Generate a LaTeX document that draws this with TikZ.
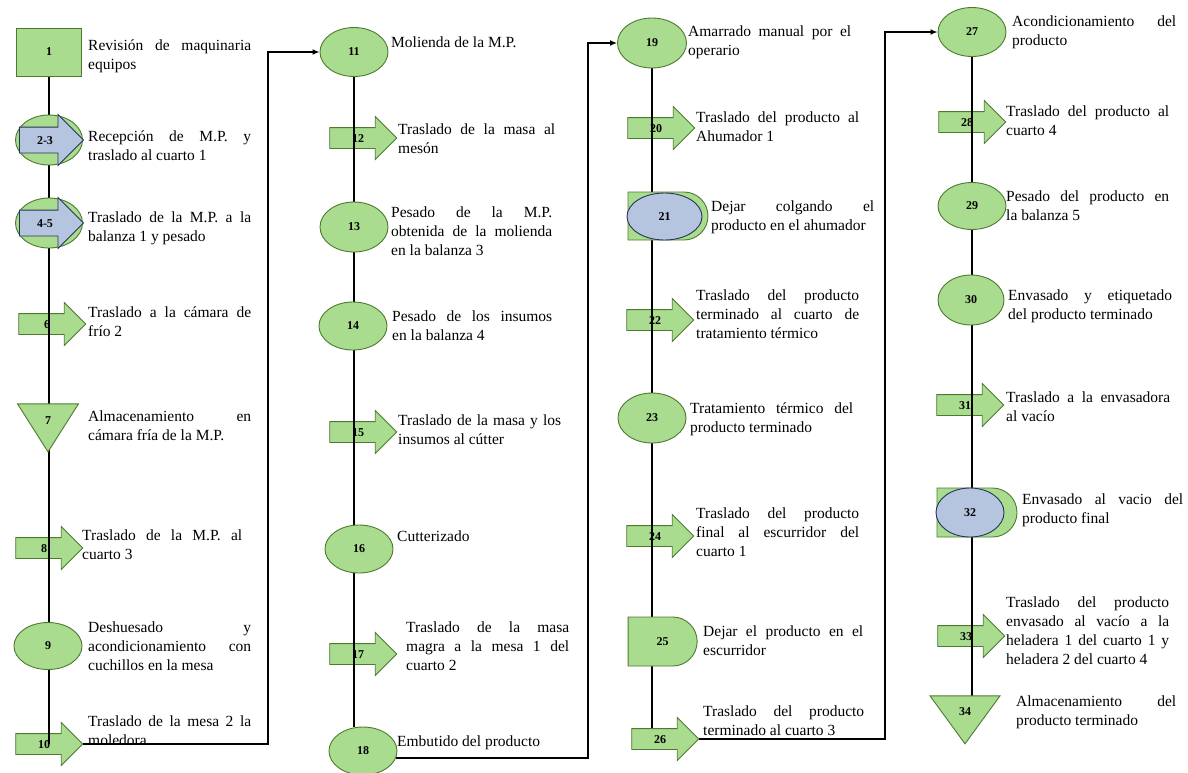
\documentclass[tikz,border=0pt]{standalone}
\usepackage{fontspec}
\setmainfont{Liberation Serif}
\usetikzlibrary{positioning, calc, arrows.meta, shapes.geometric, shapes.arrows, shapes.misc}
\pgfdeclarelayer{back}
\pgfdeclarelayer{mid}
\pgfsetlayers{back,mid,main}
\definecolor{opgreen}{RGB}{169,220,142}
\definecolor{opedge}{RGB}{78,122,48}
\definecolor{opblue}{RGB}{182,197,223}
\definecolor{opnavy}{RGB}{38,52,86}
\hyphenpenalty=10000
\exhyphenpenalty=10000

\tikzset{
  base/.style={fill=opgreen, draw=opedge, line width=0.9pt, inner sep=0pt,
    font=\bfseries\fontsize{12}{14}\selectfont},
  operation/.style={base, ellipse, minimum width=68pt, minimum height=49pt},
  inspection/.style={base, rectangle, minimum width=65pt, minimum height=48pt},
  transport/.style={base, single arrow, single arrow head extend=11pt,
    minimum height=67pt, text height=8pt, text depth=0pt, inner ysep=6pt, inner xsep=2pt},
  storage/.style={base, isosceles triangle, isosceles triangle stretches,
    shape border rotate=-90, minimum width=61pt, minimum height=48pt},
  delay/.style={base, rounded rectangle, rounded rectangle left arc=none,
    minimum width=80pt, minimum height=49pt},
  combo/.style={fill=opblue, draw=opnavy},
  desc/.style={anchor=north west, text width=163pt, align=justify, inner sep=0pt,
    font=\fontsize{15.5}{19}\selectfont},
  trunk/.style={line width=1.4pt},
  flow/.style={line width=1.4pt, -{Latex[length=7pt,width=6pt]}},
}

\begin{document}
\begin{tikzpicture}[x=1pt, y=-1pt]
    \useasboundingbox (0,0) rectangle (1188,772);

    % Transportes (debajo de la linea)
    \begin{pgfonlayer}{back}
    \node[transport] (n6) at (47,324) {6};
    \node[transport] (n8) at (44,548) {8};
    \node[transport] (n10) at (44,744) {10};
    \node[transport] (n12) at (358,138) {12};
    \node[transport] (n15) at (358,432) {15};
    \node[transport] (n17) at (358,654) {17};
    \node[transport] (n20) at (656,128) {20};
    \node[transport] (n22) at (655,320) {22};
    \node[transport] (n24) at (655,536) {24};
    \node[transport] (n26) at (660,739) {26};
    \node[transport] (n28) at (967,122) {28};
    \node[transport] (n31) at (965,405) {31};
    \node[transport] (n33) at (966,636) {33};
    \end{pgfonlayer}

    % Columna 1
    \node[inspection] (n1) at (49,52) {1};
    \node[operation, minimum width=67pt, minimum height=50pt] (n2) at (49,140) {};
    \node[transport, combo, minimum height=64pt, single arrow head extend=12.5pt, inner ysep=8.5pt] (n3) at (45,140) {2-3};
    \node[operation, minimum width=67pt, minimum height=50pt] (n4) at (49,223) {};
    \node[transport, combo, minimum height=64pt, single arrow head extend=12.5pt, inner ysep=8.5pt] (n5) at (45,223) {4-5};
    \node[storage, anchor=apex] (n7) at (48,453) {7};
    \node[operation, minimum height=47pt] (n9) at (48,646) {9};

    % Columna 2
    \node[operation] (n11) at (354,52) {11};
    \node[operation, minimum height=50pt] (n13) at (354,227) {13};
    \node[operation, minimum height=48pt] (n14) at (353,326) {14};
    \node[operation, minimum height=48pt] (n16) at (359,549) {16};
    \node[operation, minimum height=48pt] (n18) at (363,751) {18};

    % Columna 3
    \node[operation, minimum width=69pt, minimum height=50pt] (n19) at (652,43) {19};
    \node[delay, minimum height=48pt] (n21a) at (668,216) {};
    \node[operation, combo, minimum width=75pt, minimum height=47pt] (n21) at (664.5,216.5) {21};
    \node[operation, minimum height=50pt] (n23) at (652,418) {23};
    \node[delay, minimum width=69pt] (n25) at (662.5,641.5) {25};

    % Columna 4
    \node[operation] (n27) at (972,32) {27};
    \node[operation, minimum height=47pt] (n29) at (972,206) {29};
    \node[operation, minimum width=66pt, minimum height=50pt] (n30) at (971,300) {30};
    \node[delay] (n32a) at (977,512.5) {};
    \node[operation, combo] (n32) at (970,512.5) {32};
    \node[storage, minimum width=70pt, anchor=apex] (n34) at (965,745) {34};

    % Lineas de flujo
    \begin{pgfonlayer}{mid}
    \draw[trunk] (n1.south) -- (n1.south |- n10.center);
    \draw[trunk] (n11.south) -- (n11.south |- n18.north);
    \draw[trunk] (n19.south) -- (n19.south |- n26.north);
    \draw[trunk] (n27.south) -- (n27.south |- n34.center);
    \end{pgfonlayer}
    \coordinate (j1) at (268,400);
    \coordinate (j2) at (588,400);
    \coordinate (j3) at (885,400);
    \draw[flow] (n10.tip) -| (j1) |- (n11.west);
    \draw[flow] (n18.-12) -| (j2) |- (n19.west);
    \draw[flow] (n26.tip) -| (j3) |- (n27.west);

    % Descripciones
    \node[desc] (t1) at (88,40) {Revisión de maquinaria\linebreak equipos};
    \node[desc] (t2) at (88,131) {Recepción de M.P. y\linebreak traslado al cuarto 1};
    \node[desc] (t4) at (88,212) {Traslado de la M.P. a la\linebreak balanza 1 y pesado};
    \node[desc] (t6) at (88,307) {Traslado a la cámara de\linebreak frío 2};
    \node[desc] (t7) at (88,411) {Almacenamiento en\linebreak cámara fría de la M.P.};
    \node[desc, text width=160pt] (t8) at (82,530) {Traslado de la M.P. al\linebreak cuarto 3};
    \node[desc] (t9) at (88,622) {Deshuesado y\linebreak acondicionamiento con\linebreak cuchillos en la mesa};
    \node[desc] (t10) at (88,716) {Traslado de la mesa 2 la\linebreak moledora};

    \node[desc] (t11) at (391,37) {Molienda de la M.P.};
    \node[desc, text width=157pt] (t12) at (398,124) {Traslado de la masa al\linebreak mesón};
    \node[desc, text width=161pt] (t13) at (391,207) {Pesado de la M.P.\linebreak obtenida de la molienda\linebreak en la balanza 3};
    \node[desc, text width=160pt] (t14) at (392,311) {Pesado de los insumos\linebreak en la balanza 4};
    \node[desc] (t15) at (398,415) {Traslado de la masa y los\linebreak insumos al cútter};
    \node[desc] (t16) at (397,531) {Cutterizado};
    \node[desc] (t17) at (406,622) {Traslado de la masa\linebreak magra a la mesa 1 del\linebreak cuarto 2};
    \node[desc] (t18) at (397,736) {Embutido del producto};

    \node[desc] (t19) at (688,26) {Amarrado manual por el\linebreak operario};
    \node[desc] (t20) at (696,112) {Traslado del producto al\linebreak Ahumador 1};
    \node[desc] (t21) at (711,201) {Dejar colgando el\linebreak producto en el ahumador};
    \node[desc] (t22) at (696,290) {Traslado del producto\linebreak terminado al cuarto de\linebreak tratamiento térmico};
    \node[desc] (t23) at (690,403) {Tratamiento térmico del\linebreak producto terminado};
    \node[desc] (t24) at (696,508) {Traslado del producto\linebreak final al escurridor del\linebreak cuarto 1};
    \node[desc, text width=160pt] (t25) at (703,626) {Dejar el producto en el\linebreak escurridor};
    \node[desc, text width=161pt] (t26) at (703,706) {Traslado del producto\linebreak terminado al cuarto 3};

    \node[desc, text width=164pt] (t27) at (1012,16) {Acondicionamiento del\linebreak producto};
    \node[desc] (t28) at (1006,106) {Traslado del producto al\linebreak cuarto 4};
    \node[desc] (t29) at (1006,191) {Pesado del producto en\linebreak la balanza 5};
    \node[desc, text width=164pt] (t30) at (1008,290) {Envasado y etiquetado\linebreak del producto terminado};
    \node[desc, text width=164pt] (t31) at (1006,392) {Traslado a la envasadora\linebreak al vacío};
    \node[desc, text width=161pt] (t32) at (1022,494) {Envasado al vacio del\linebreak producto final};
    \node[desc] (t33) at (1006,597) {Traslado del producto\linebreak envasado al vacío a la\linebreak heladera 1 del cuarto 1 y\linebreak heladera 2 del cuarto 4};
    \node[desc, text width=160pt] (t34) at (1016,696) {Almacenamiento del\linebreak producto terminado};
\end{tikzpicture}
\end{document}
